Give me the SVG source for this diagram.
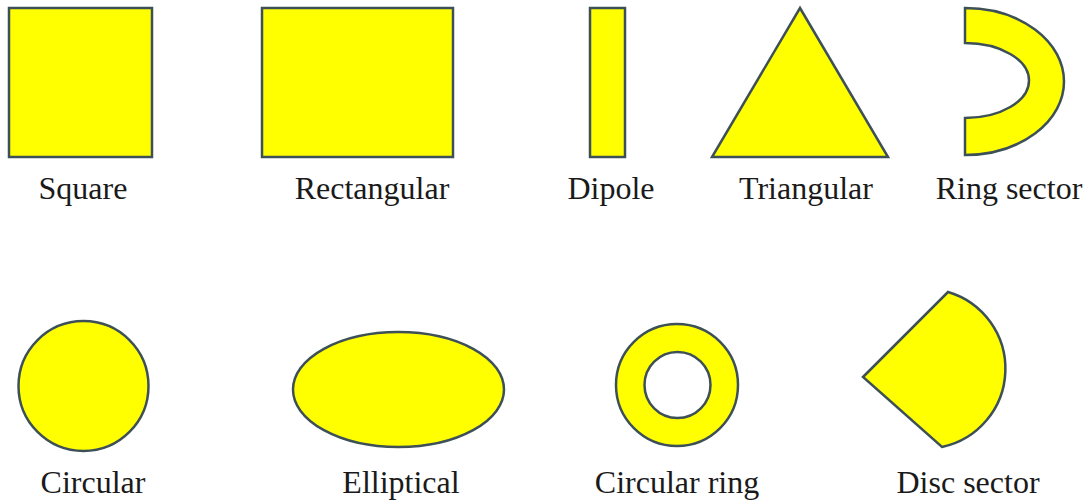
<svg xmlns="http://www.w3.org/2000/svg" width="1090" height="504" viewBox="0 0 1090 504">
<style>
.s{fill:#ffff00;stroke:#3d5058;stroke-width:2.5;stroke-linejoin:miter}
text{font-family:'Liberation Serif','DejaVu Serif','Times New Roman',serif;font-size:32px;fill:#1a1a1a;text-anchor:middle}
</style>
<rect width="1090" height="504" fill="#ffffff"/>
<g id="square">
<rect class="s" x="9" y="8" width="143" height="149"/>
<text x="83" y="199" font-family="Liberation Serif, serif">Square</text>
</g>
<g id="rectangular">
<rect class="s" x="262" y="8" width="191" height="149"/>
<text x="372" y="199" font-family="Liberation Serif, serif">Rectangular</text>
</g>
<g id="dipole">
<rect class="s" x="590" y="8" width="35" height="149"/>
<text x="611" y="199" font-family="Liberation Serif, serif">Dipole</text>
</g>
<g id="triangular">
<polygon class="s" points="800,8 888,157 712,157"/>
<text x="806" y="199" font-family="Liberation Serif, serif">Triangular</text>
</g>
<g id="ring-sector">
<path class="s" d="M965 8 A99 73.5 0 0 1 965 155 L965 118 A64 37.5 0 0 0 965 43 Z"/>
<text x="1009" y="199" font-family="Liberation Serif, serif">Ring sector</text>
</g>
<g id="circular">
<circle class="s" cx="83.5" cy="386" r="65"/>
<text x="93" y="493" font-family="Liberation Serif, serif">Circular</text>
</g>
<g id="elliptical">
<ellipse class="s" cx="398.5" cy="389.5" rx="105.5" ry="57.5"/>
<text x="401" y="493" font-family="Liberation Serif, serif">Elliptical</text>
</g>
<g id="circular-ring">
<path class="s" fill-rule="evenodd" d="M616 385 A61 61 0 1 0 738 385 A61 61 0 1 0 616 385 Z M644.5 385 A33 33 0 1 1 710.5 385 A33 33 0 1 1 644.5 385 Z"/>
<text x="677" y="493" font-family="Liberation Serif, serif">Circular ring</text>
</g>
<g id="disc-sector">
<path class="s" d="M863 377 L948 292 A80 80 0 0 1 942 447 Z"/>
<text x="968" y="493" font-family="Liberation Serif, serif">Disc sector</text>
</g>
<g id="connectors"></g>
</svg>
